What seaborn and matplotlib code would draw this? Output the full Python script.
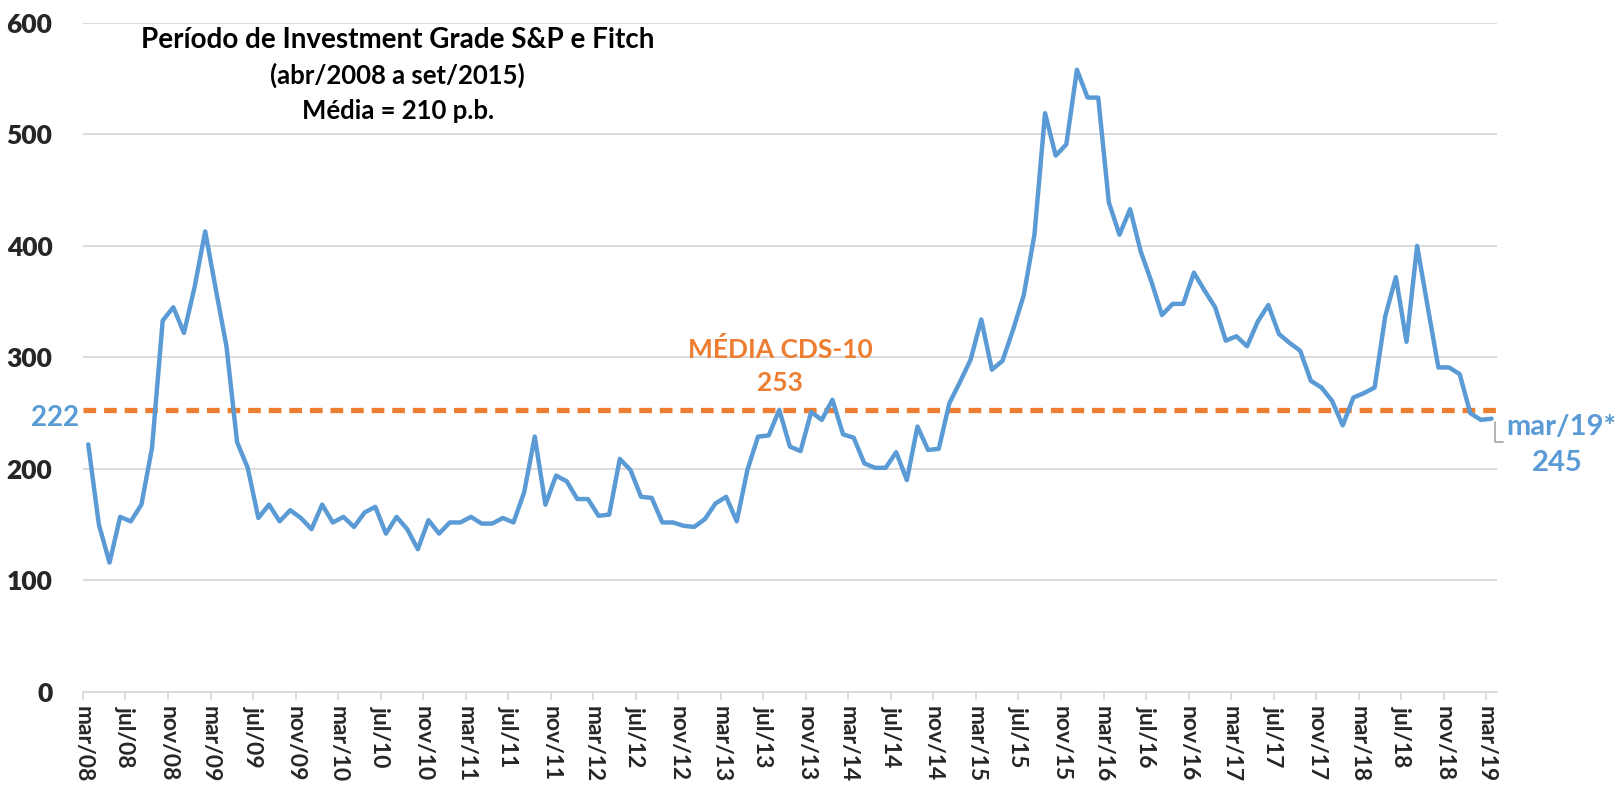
import numpy as np
import pandas as pd
import matplotlib
matplotlib.use('Agg')
import matplotlib.pyplot as plt
import seaborn as sns

# CDS 5 anos Brasil (p.b.), mensal mar/08 - mar/19
cds = [222, 150, 116, 157, 153, 168, 219, 333, 345, 322, 363, 413, 361, 310, 224, 201,
       156, 168, 153, 163, 156, 146, 168, 152, 157, 148, 161, 166, 142, 157, 146, 128,
       154, 142, 152, 152, 157, 151, 151, 156, 152, 179, 229, 168, 194, 189, 173, 173,
       158, 159, 209, 199, 175, 174, 152, 152, 149, 148, 155, 169, 175, 153, 199, 229,
       230, 253, 220, 216, 251, 244, 262, 231, 228, 205, 201, 201, 215, 190, 238, 217,
       218, 259, 278, 298, 334, 289, 297, 325, 356, 410, 519, 481, 491, 558, 533, 533,
       439, 410, 433, 395, 368, 338, 348, 348, 376, 360, 345, 315, 319, 310, 332, 347,
       321, 313, 306, 279, 273, 261, 239, 264, 268, 273, 337, 372, 314, 400, 345, 291,
       291, 285, 250, 244, 245]
media_cds10 = 253

tick_labels = ['mar/08', 'jul/08', 'nov/08', 'mar/09', 'jul/09', 'nov/09', 'mar/10', 'jul/10',
               'nov/10', 'mar/11', 'jul/11', 'nov/11', 'mar/12', 'jul/12', 'nov/12', 'mar/13',
               'jul/13', 'nov/13', 'mar/14', 'jul/14', 'nov/14', 'mar/15', 'jul/15', 'nov/15',
               'mar/16', 'jul/16', 'nov/16', 'mar/17', 'jul/17', 'nov/17', 'mar/18', 'jul/18',
               'nov/18', 'mar/19']

df = pd.DataFrame({'mes': np.arange(len(cds)), 'cds': cds})

sns.set_theme(style='white')
plt.rcParams['font.family'] = ['Lato', 'DejaVu Sans']

blue = '#5B9BD5'
orange = '#ED7D31'

fig = plt.figure(figsize=(16.2, 7.89), dpi=100)
ax = fig.add_axes([0.0512, 0.123, 0.8728, 0.848])

ax.axhline(media_cds10, color=orange, lw=3.8, ls=(0, (2.4, 1.5)), zorder=2)
sns.lineplot(data=df, x='mes', y='cds', ax=ax, color=blue, lw=3.2, zorder=3)

ax.set_xlim(-0.5, len(cds) - 0.5)
ax.set_ylim(0, 600)
ax.set_yticks(range(0, 601, 100))
ax.set_xticks(np.arange(0, len(cds), 4) - 0.5)
ax.set_xticklabels(tick_labels, rotation=-90, fontsize=16.5, fontweight='bold')
ax.set_yticklabels([str(v) for v in range(0, 601, 100)], fontsize=19, fontweight='heavy')
ax.set_xlabel('')
ax.set_ylabel('')

ax.grid(axis='y', color='#D9D9D9', lw=1.3)
ax.grid(axis='x', visible=False)
for s in ['left', 'right', 'top']:
    ax.spines[s].set_visible(False)
ax.spines['bottom'].set_color('#D9D9D9')
ax.spines['bottom'].set_linewidth(1.3)
ax.tick_params(axis='x', bottom=True, length=6, width=1.3, color='#D9D9D9', pad=4)
ax.tick_params(axis='y', left=False, pad=16)

# titulo no canto superior
ax.text(29.1, 585, 'Período de Investment Grade S&P e Fitch', ha='center', va='center',
        fontsize=20, fontweight='bold', color='black')
narrow = ['Liberation Sans Narrow', 'Lato', 'DejaVu Sans']
ax.text(29.1, 553, '(abr/2008 a set/2015)', ha='center', va='center',
        fontsize=18.5, fontweight='bold', color='black', family=narrow)
ax.text(29.1, 521, 'Média = 210 p.b.', ha='center', va='center',
        fontsize=18.5, fontweight='bold', color='black', family=narrow)

# rotulo da media
ax.text(65.1, 307, 'MÉDIA CDS-10', ha='center', va='center', fontsize=19,
        fontweight='bold', color=orange)
ax.text(65.1, 277, str(media_cds10), ha='center', va='center', fontsize=19,
        fontweight='bold', color=orange)

# rotulos dos pontos
ax.text(-0.9, 246, str(cds[0]), ha='right', va='center', fontsize=20,
        fontweight='bold', color=blue, clip_on=False)
ax.plot([132.3, 132.3, 133.1], [242, 224, 224], color='#A6A6A6', lw=1.2,
        clip_on=False, zorder=4)
ax.text(133.4, 238, 'mar/19*', ha='left', va='center', fontsize=21,
        fontweight='bold', color=blue, clip_on=False)
ax.text(138.2, 205, str(cds[-1]), ha='center', va='center', fontsize=21,
        fontweight='bold', color=blue, clip_on=False)

fig.savefig('out.png', dpi=100)
